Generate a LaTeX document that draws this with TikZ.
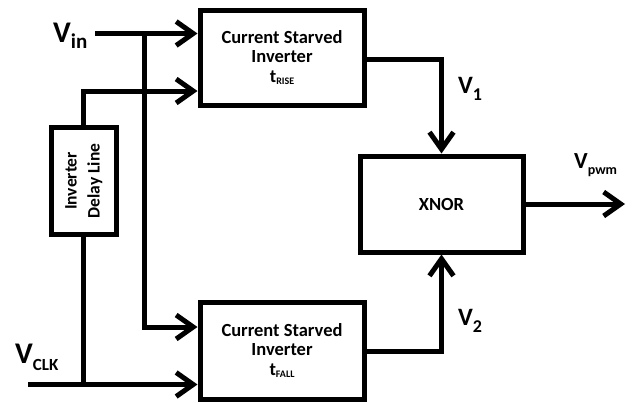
\documentclass[tikz,border=0pt]{standalone}
\usepackage{fontspec}
\setmainfont{Carlito}
\usetikzlibrary{arrows.meta}

% subscripted signal name: base text, subscript, sizes and drop
\newcommand{\sig}[5]{{\fontsize{#3}{#3}\selectfont #1}\raisebox{-#5pt}{\fontsize{#4}{#4}\selectfont #2}}

\begin{document}
\begin{tikzpicture}[x=1pt,y=-1pt,
  wire/.style={line width=5pt},
  arr/.style={wire,-{Straight Barb[length=17pt,width=24pt]}},
  blk/.style={draw,line width=5pt,inner sep=0pt,align=center,
    font=\fontsize{18.5}{19.5}\selectfont\bfseries},
  lbl/.style={anchor=base west,inner sep=0pt,font=\bfseries}]
\useasboundingbox (0,0) rectangle (635,402);

% blocks
\node[blk,minimum width=164pt,minimum height=95pt] (cs1) at (282,57.5)
  {Current Starved\\Inverter\\t\raisebox{-2pt}{\fontsize{10}{10}\selectfont RISE}};
\node[blk,minimum width=164pt,minimum height=97pt] (cs2) at (282,350.5)
  {Current Starved\\Inverter\\t\raisebox{-2pt}{\fontsize{10}{10}\selectfont FALL}};
\node[blk,minimum width=163pt,minimum height=96pt] (xnor) at (441.5,204) {XNOR};
\node[blk,minimum width=64.5pt,minimum height=107pt] (dl) at (83.75,181) {};
\node[rotate=90,align=center,inner sep=0pt,
  font=\fontsize{17.5}{23}\selectfont\bfseries] (dltext) at (dl.center)
  {Inverter\\Delay Line};

% free wire ends
\coordinate (vin) at (95,33.5);
\coordinate (vjoin) at (144,33.5);
\coordinate (clk) at (28,384.5);
\coordinate (clkjoin) at (83.75,384.5);
\coordinate (pwm) at (625,204);

% input wiring
\draw[arr] (vin) -- (vin -| cs1.west);
\draw[arr] (vjoin) |- (cs2.west |- 0,327);
\draw[arr] (dl.north) |- (cs1.west |- 0,91);
\draw[arr] (clk) -- (clk -| cs2.west);
\draw[wire] (dl.south) -- (clkjoin);

% outputs
\draw[arr] (cs1.east |- 0,59) -| (xnor.north);
\draw[arr] (cs2.east |- 0,351) -| (xnor.south);
\draw[arr] (xnor.east) -- (pwm);

% signal names
\node[lbl] (lvin) at (53,42) {\sig{V}{in}{30}{21}{6}};
\node[lbl] (lclk) at (15,363) {\sig{V}{CLK}{30}{17}{7}};
\node[lbl] (lv1) at (458,93) {\sig{V}{1}{25}{18}{7}};
\node[lbl] (lv2) at (458,325) {\sig{V}{2}{25}{18}{7}};
\node[lbl] (lpwm) at (574,168) {\sig{V}{pwm}{23}{14}{6}};
\end{tikzpicture}
\end{document}
